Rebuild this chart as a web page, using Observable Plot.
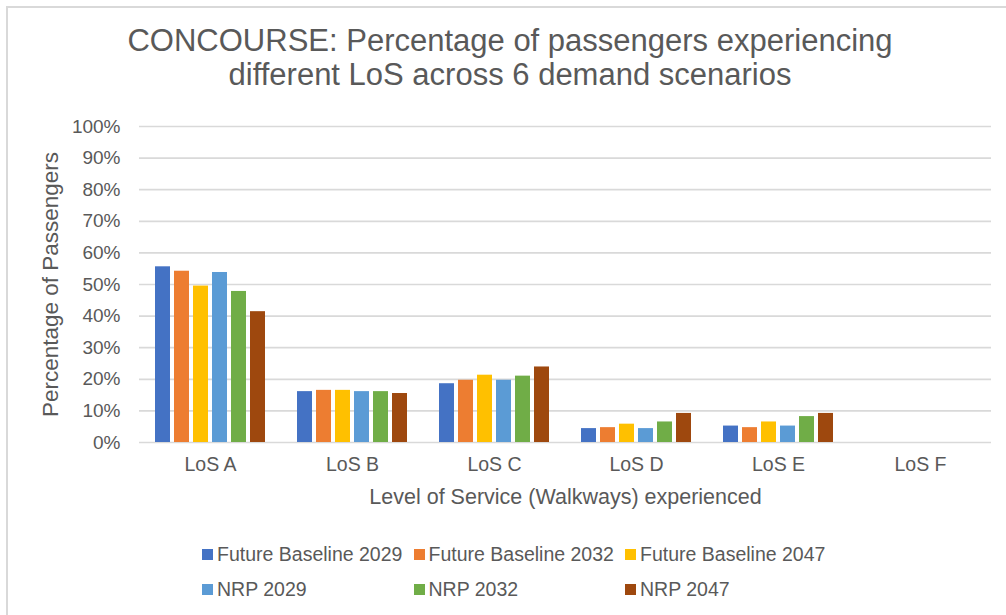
<!DOCTYPE html>
<html>
<head>
<meta charset="utf-8">
<script src="https://cdn.jsdelivr.net/npm/d3@7"></script>
<script src="https://cdn.jsdelivr.net/npm/@observablehq/plot@0.6"></script>
<style>
  html, body { margin: 0; padding: 0; background: #fff; width: 1006px; height: 615px; overflow: hidden; }
  body { font-family: "Liberation Sans", Arial, sans-serif; color: #595959; position: relative; }
  #frame { position: absolute; left: 6px; top: 6px; width: 1200px; height: 800px; border: 2px solid #d9d9d9; box-sizing: border-box; }
  #title { position: absolute; left: 0; width: 1020px; top: 24px; text-align: center; font-size: 31px; line-height: 34px; color: #595959; }
  #chart { position: absolute; left: 0; top: 100px; }
  #legend { position: absolute; left: 202px; top: 537px; display: grid; grid-template-columns: 211.5px 211.5px 211.5px; grid-auto-rows: 35px; font-size: 19.5px; }
  .item { display: flex; align-items: center; white-space: nowrap; }
  .sw { width: 11px; height: 11px; margin-right: 4px; flex: none; }
</style>
</head>
<body>
<div id="frame"></div>
<div id="title">CONCOURSE: Percentage of passengers experiencing<br>different LoS across 6 demand scenarios</div>
<div id="chart"></div>
<div id="legend"></div>
<script>
// Categories (Level of Service)
const categories = ["LoS A", "LoS B", "LoS C", "LoS D", "LoS E", "LoS F"];
// Series (demand scenarios)
const seriesNames = ["Future Baseline 2029", "Future Baseline 2032", "Future Baseline 2047", "NRP 2029", "NRP 2032", "NRP 2047"];
const seriesColors = ["#4472C4", "#ED7D31", "#FFC000", "#5B9BD5", "#70AD47", "#9E480E"];
// Values (% of passengers) per series, in category order
const fb2029 = [55.6, 16.1, 18.6, 4.4, 5.2, 0];
const fb2032 = [54.2, 16.5, 19.7, 4.7, 4.7, 0];
const fb2047 = [49.5, 16.5, 21.3, 5.8, 6.5, 0];
const nrp2029 = [53.8, 16.1, 19.7, 4.4, 5.2, 0];
const nrp2032 = [47.8, 16.1, 21.0, 6.5, 8.2, 0];
const nrp2047 = [41.4, 15.5, 23.9, 9.2, 9.2, 0];
const yTicks = [0, 10, 20, 30, 40, 50, 60, 70, 80, 90, 100];
const xTitle = "Level of Service (Walkways) experienced";
const yTitle = "Percentage of Passengers";

const seriesValues = [fb2029, fb2032, fb2047, nrp2029, nrp2032, nrp2047];
const data = [];
seriesNames.forEach((s, i) => {
  categories.forEach((c, j) => {
    data.push({los: c, series: s, value: seriesValues[i][j]});
  });
});

const chart = Plot.plot({
  width: 1006,
  height: 420,
  marginLeft: 137,
  marginRight: 14,
  marginTop: 26,
  marginBottom: 78,
  style: {fontFamily: "'Liberation Sans', Arial, sans-serif", fontSize: "19px", color: "#595959", background: "transparent"},
  fx: {domain: categories, padding: 0},
  x: {domain: seriesNames, paddingInner: 0.2, paddingOuter: 0.83, axis: null},
  y: {domain: [0, 100]},
  color: {domain: seriesNames, range: seriesColors},
  marks: [
    Plot.gridY(yTicks, {stroke: "#d9d9d9", strokeOpacity: 1, strokeWidth: 1.7}),
    Plot.barY(data, {fx: "los", x: "series", y: "value", fill: "series"}),
    Plot.axisY(yTicks, {tickSize: 0, tickPadding: 19, tickFormat: d => d + "%", fontSize: 19, label: null}),
    Plot.axisY([], {tickSize: 0, fontSize: 22.5,
      label: yTitle, labelAnchor: "center", labelArrow: "none", labelOffset: 97}),
    Plot.axisFx({anchor: "bottom", tickSize: 0, tickPadding: 15, fontSize: 19.5, label: null}),
    Plot.axisFx([], {anchor: "bottom", tickSize: 0, fontSize: 21.5,
      label: xTitle, labelAnchor: "center", labelOffset: 61})
  ]
});
document.getElementById("chart").appendChild(chart);

// Legend
const legend = document.getElementById("legend");
seriesNames.forEach((s, i) => {
  const it = document.createElement("div");
  it.className = "item";
  const sw = document.createElement("span");
  sw.className = "sw";
  sw.style.background = seriesColors[i];
  const tx = document.createElement("span");
  tx.textContent = s;
  it.appendChild(sw); it.appendChild(tx);
  legend.appendChild(it);
});
</script>
</body>
</html>
